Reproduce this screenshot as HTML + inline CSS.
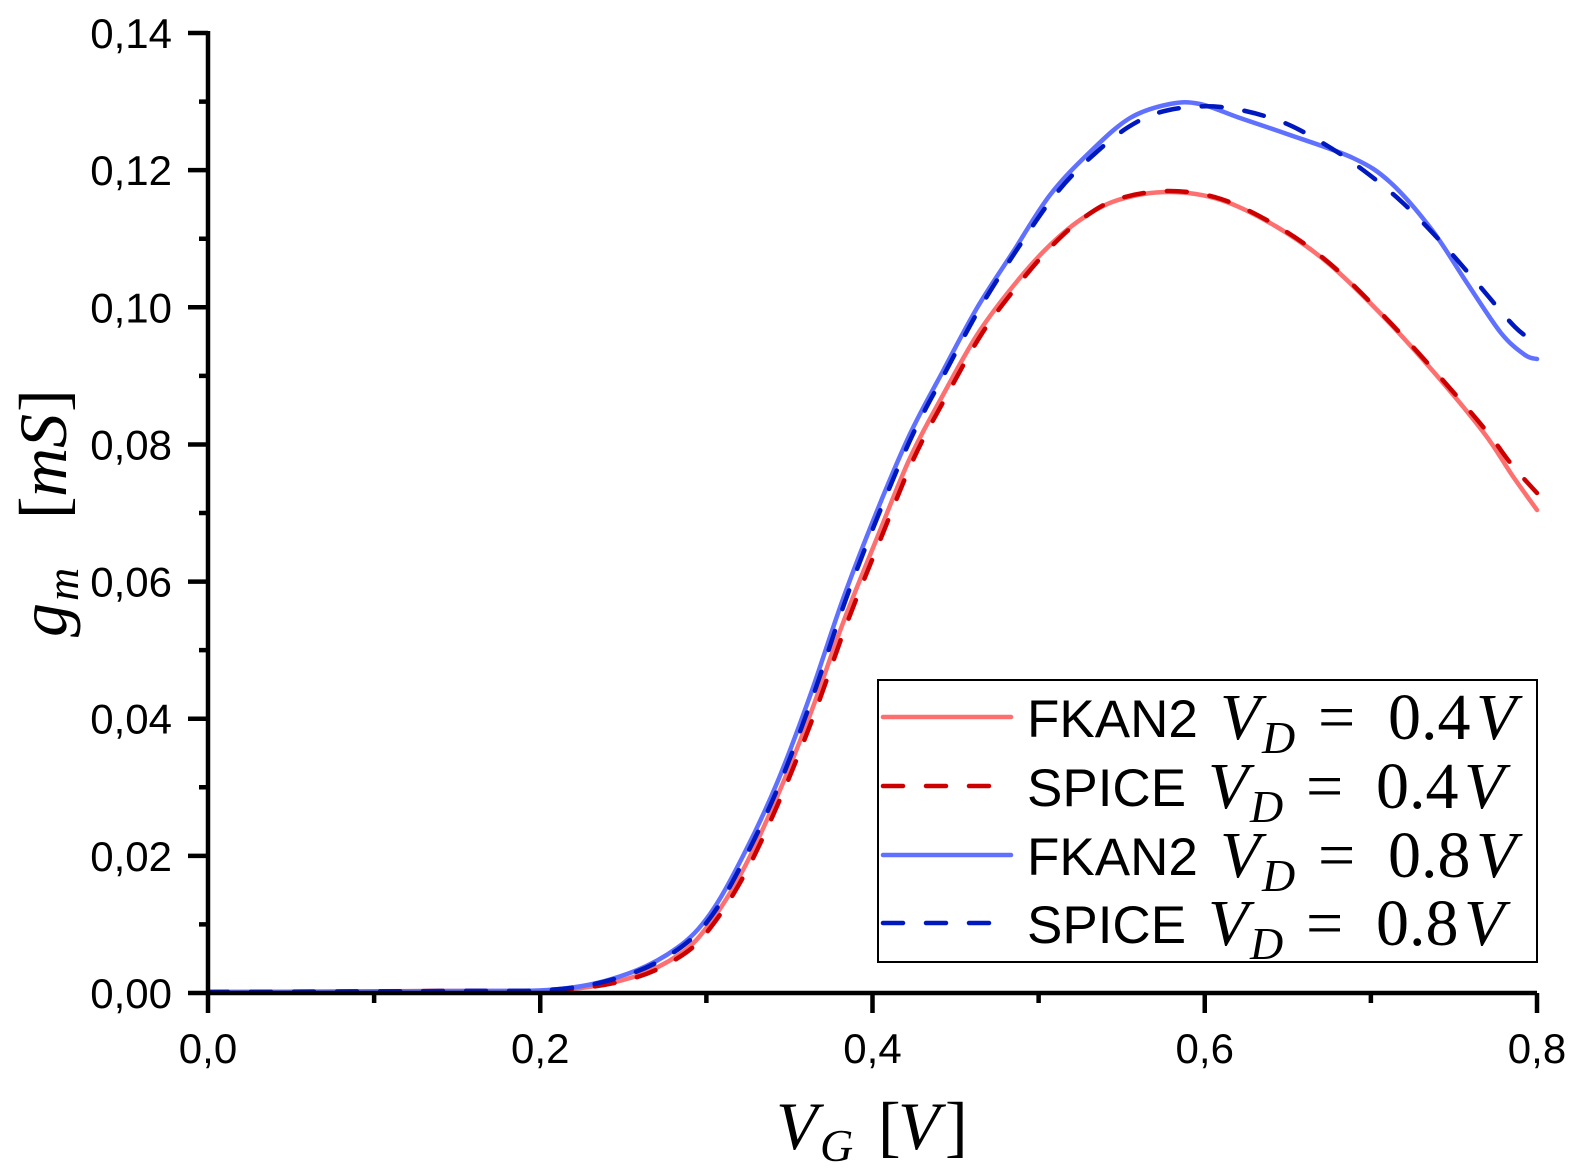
<!DOCTYPE html>
<html><head><meta charset="utf-8"><style>
html,body{margin:0;padding:0;background:#fff;}
svg{display:block;}
.t{font-family:"Liberation Sans",sans-serif;font-size:42px;fill:#000;}
.m{font-family:"Liberation Serif",serif;font-style:italic;fill:#000;}
.r{font-family:"Liberation Serif",serif;fill:#000;}
.s{font-family:"Liberation Sans",sans-serif;fill:#000;}
</style></head><body>
<svg id="s" width="1579" height="1173" viewBox="0 0 1579 1173" xmlns="http://www.w3.org/2000/svg">
<g id="curves" fill="none" stroke-linecap="round" stroke-linejoin="round"></g>
<g stroke="#000" stroke-width="4.5" fill="none">
<path d="M208,31 V993 H1537"/>
<path id="ticks" d=""/>
</g>
<g id="labels"></g>
<rect x="878" y="680" width="659" height="282" fill="#fff" stroke="#000" stroke-width="2"/>
<line x1="883" y1="717" x2="1011" y2="717" stroke="#fe7070" stroke-width="4.5" stroke-linecap="round"/>
<line x1="883" y1="786" x2="1011" y2="786" stroke="#cc0000" stroke-width="4.5" stroke-linecap="round" stroke-dasharray="20,23"/>
<line x1="883" y1="855" x2="1011" y2="855" stroke="#6070ff" stroke-width="4.5" stroke-linecap="round"/>
<line x1="883" y1="923" x2="1011" y2="923" stroke="#0018c0" stroke-width="4.5" stroke-linecap="round" stroke-dasharray="20,23"/>
<g id="leg"></g>
<g font-size="68">
<text class="m" x="776" y="1149">V</text>
<text class="m" x="820" y="1161" font-size="46">G</text>
<text class="r" x="878" y="1149">[</text>
<text class="m" x="898" y="1149">V</text>
<text class="r" x="945" y="1149">]</text>
</g>
<g transform="translate(66,637) rotate(-90)" font-size="68">
<text class="m" x="0" y="0">g</text>
<text class="m" x="36" y="12" font-size="46">m</text>
<text class="r" x="118" y="0">[</text>
<text class="m" x="140" y="0">mS</text>
<text class="r" x="225" y="0">]</text>
</g>
</svg>
<script>
var NS="http://www.w3.org/2000/svg";
function X(v){return 208+v*1661.25;}
function Y(v){return 993-v*6857;}
var d="",lab="";
for(var i=0;i<=14;i++){var y=Y(i*0.01);d+="M"+(i%2?199:188)+","+y+"H208";
 if(i%2==0){lab+='<text class="t" x="172" y="'+(y+15)+'" text-anchor="end">0,'+(i<10?"0":"")+i+'</text>';}}
for(var i=0;i<=8;i++){var x=X(i*0.1);d+="M"+x+",993V"+(i%2?1003:1013);
 if(i%2==0){lab+='<text class="t" x="'+x+'" y="1063" text-anchor="middle">'+(i/10).toFixed(1).replace(".",",")+'</text>';}}
document.getElementById("ticks").setAttribute("d",d);
document.getElementById("labels").innerHTML=lab;
var leg="",rows=[["FKAN2",737,"0.4",0],["SPICE",806,"0.4",-12],["FKAN2",875,"0.8",0],["SPICE",943,"0.8",-12]];
rows.forEach(function(r){var o=r[3],y=r[1];
 leg+='<text class="s" x="1027" y="'+y+'" font-size="53">'+r[0]+'</text>';
 leg+='<text class="m" x="'+(1220+o)+'" y="'+(y+2)+'" font-size="66">V</text>';
 leg+='<text class="m" x="'+(1262+o)+'" y="'+(y+16)+'" font-size="46">D</text>';
 leg+='<text class="r" x="'+(1318+o)+'" y="'+(y+2)+'" font-size="66">=</text>';
 leg+='<text class="r" x="'+(1388+o)+'" y="'+(y+2)+'" font-size="66">'+r[2]+'</text>';
 leg+='<text class="m" x="'+(1476+o)+'" y="'+(y+2)+'" font-size="66">V</text>';});
document.getElementById("leg").innerHTML=leg;
function cr(p){var s="M"+p[0][0]+","+p[0][1];
 for(var i=0;i<p.length-1;i++){var p0=p[i-1]||p[i],p1=p[i],p2=p[i+1],p3=p[i+2]||p2;
 s+="C"+(p1[0]+(p2[0]-p0[0])/6)+","+(p1[1]+(p2[1]-p0[1])/6)+" "+(p2[0]-(p3[0]-p1[0])/6)+","+(p2[1]-(p3[1]-p1[1])/6)+" "+p2[0]+","+p2[1];}
 return s;}
var bs=[[208,992],[450,991],[560,989],[627,974],[677,948],[710,914],[743,856],[777,783],[810,696],[843,599],[877,511],[910,434],[943,371],[977,308],[1013,252],[1050,195],[1090,152],[1130,118],[1170,104],[1200,104],[1240,118],[1287,134],[1353,158],[1391,183],[1432,230],[1467,283],[1501,333],[1525,355],[1537,359]];
var bd=[[208,992],[450,991],[560,989],[630,974],[680,948],[713,914],[746,856],[780,783],[813,696],[846,599],[880,511],[913,434],[946,371],[980,308],[1018,248],[1055,195],[1090,158],[1130,126],[1169,110],[1221,107],[1277,120],[1321,142],[1363,170],[1403,203],[1442,243],[1477,283],[1515,327],[1537,343]];
var rs=[[208,992],[450,991],[560,990],[630,978],[680,954],[710,923],[743,870],[777,797],[810,715],[843,623],[877,538],[910,458],[943,395],[977,335],[1010,290],[1045,250],[1080,220],[1118,200],[1169,192],[1221,200],[1277,227],[1328,263],[1380,313],[1432,370],[1484,433],[1512,475],[1537,510]];
var rd=[[208,992],[450,991],[560,990],[634,978],[684,954],[714,923],[747,870],[781,797],[814,715],[847,623],[881,538],[914,458],[947,395],[981,335],[1014,290],[1048,250],[1082,219],[1118,199],[1169,191],[1221,199],[1277,226],[1328,262],[1380,312],[1432,368],[1484,428],[1512,465],[1537,493]];
var g=document.getElementById("curves");
[[rs,"#fe7070",""],[bs,"#6070ff",""],[rd,"#cc0000","20,23"],[bd,"#0018c0","20,23"]].forEach(function(c){
 var p=document.createElementNS(NS,"path");p.setAttribute("d",cr(c[0]));p.setAttribute("stroke",c[1]);p.setAttribute("stroke-width","4.5");
 if(c[2])p.setAttribute("stroke-dasharray",c[2]);g.appendChild(p);});
</script>
</body></html>
